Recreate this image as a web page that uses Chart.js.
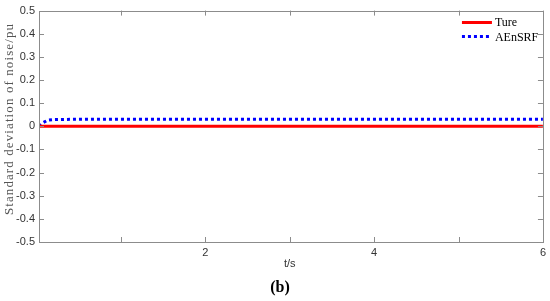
<!DOCTYPE html>
<html>
<head>
<meta charset="utf-8">
<script src="https://cdn.jsdelivr.net/npm/chart.js@4.4.1/dist/chart.umd.min.js"></script>
<style>
  html, body { margin: 0; padding: 0; background: #fff; }
  #wrap { width: 550px; height: 301px; }
</style>
</head>
<body>
<div id="wrap"><canvas id="myChart" width="550" height="301"></canvas></div>
<script>
// data
const tureT = [0.03, 6];
const tureVals = [0, 0];
const aenT = [0.03, 0.08, 0.13, 0.2, 0.4, 1, 2, 3, 4, 5, 6];
const aenVals = [0, 0.016, 0.026, 0.029, 0.03, 0.031, 0.031, 0.031, 0.031, 0.031, 0.031];
const xLabels = [2, 4, 6];

function toXY(t, v) {
  return t.map((ti, i) => ({x: ti, y: v[i]}));
}

const frameColor = '#8c8c8c';

const framePlugin = {
  id: 'frame',
  afterDraw(chart) {
    const ctx = chart.ctx;
    const a = chart.chartArea;
    const xs = chart.scales.x, ys = chart.scales.y;
    ctx.save();
    ctx.strokeStyle = frameColor;
    ctx.lineWidth = 1;
    ctx.strokeRect(Math.round(a.left) + 0.5, Math.round(a.top) + 0.5,
      Math.round(a.right - a.left), Math.round(a.bottom - a.top));
    // inward ticks
    ctx.beginPath();
    xs.ticks.forEach(t => {
      if (Math.abs(t.value - Math.round(t.value)) > 1e-6) return;
      const px = Math.round(xs.getPixelForValue(t.value)) + 0.5;
      ctx.moveTo(px, a.bottom); ctx.lineTo(px, a.bottom - 5);
      ctx.moveTo(px, a.top); ctx.lineTo(px, a.top + 5);
    });
    ys.ticks.forEach(t => {
      const py = Math.round(ys.getPixelForValue(t.value)) + 0.5;
      ctx.moveTo(a.left, py); ctx.lineTo(a.left + 5, py);
      ctx.moveTo(a.right, py); ctx.lineTo(a.right - 5, py);
    });
    ctx.stroke();

    // legend
    const lx = a.right - 81;
    ctx.lineWidth = 3;
    ctx.strokeStyle = '#ff0000';
    ctx.beginPath(); ctx.moveTo(lx, 22.5); ctx.lineTo(lx + 30, 22.5); ctx.stroke();
    ctx.strokeStyle = '#0000ff';
    ctx.setLineDash([3, 3]);
    ctx.beginPath(); ctx.moveTo(lx, 36.5); ctx.lineTo(lx + 30, 36.5); ctx.stroke();
    ctx.setLineDash([]);
    ctx.fillStyle = '#000';
    ctx.font = '12px "Liberation Serif", "Times New Roman", serif';
    ctx.textBaseline = 'middle';
    ctx.textAlign = 'left';
    ctx.fillText('Ture', lx + 33, 23);
    ctx.fillText('AEnSRF', lx + 33, 38);

    // axis titles
    ctx.font = '11px "Liberation Sans", Arial, sans-serif';
    ctx.textAlign = 'center';
    ctx.fillStyle = '#333';
    ctx.fillText('t/s', xs.getPixelForValue(3), 264);
    ctx.font = 'bold 16px "Liberation Serif", "Times New Roman", serif';
    ctx.fillStyle = '#000';
    ctx.fillText('(b)', 280, 288);

    ctx.save();
    ctx.translate(10, 119);
    ctx.rotate(-Math.PI / 2);
    ctx.font = '13px "Liberation Serif", "Times New Roman", serif';
    ctx.fillStyle = '#555';
    ctx.letterSpacing = '1.1px';
    ctx.fillText('Standard deviation of noise/pu', 0, 0);
    ctx.restore();
    ctx.restore();
  }
};

new Chart(document.getElementById('myChart').getContext('2d'), {
  type: 'line',
  data: {
    datasets: [
      {
        label: 'Ture',
        data: toXY(tureT, tureVals),
        borderColor: '#ff0000',
        borderWidth: 3,
        pointRadius: 0,
        tension: 0
      },
      {
        label: 'AEnSRF',
        data: toXY(aenT, aenVals),
        borderColor: '#0000ff',
        borderWidth: 3,
        borderDash: [3, 3],
        borderCapStyle: 'butt',
        pointRadius: 0,
        tension: 0
      }
    ]
  },
  options: {
    responsive: false,
    animation: false,
    layout: { padding: { left: 0, right: 7, top: 8, bottom: 0 } },
    plugins: {
      legend: { display: false },
      tooltip: { enabled: false }
    },
    scales: {
      x: {
        type: 'linear',
        min: 0.03,
        max: 6,
        grid: { display: false, drawTicks: false },
        border: { display: false },
        ticks: {
          stepSize: 1,
          padding: 4,
          color: '#333',
          font: { family: '"Liberation Sans", Arial, sans-serif', size: 11 },
          maxRotation: 0,
          autoSkip: false,
          callback: (v) => xLabels.includes(Math.round(v * 100) / 100) ? String(v) : ''
        },
        afterFit(scale) { scale.height = 59; }
      },
      y: {
        min: -0.5,
        max: 0.5,
        grid: { display: false, drawTicks: false },
        border: { display: false },
        ticks: {
          stepSize: 0.1,
          padding: 4,
          color: '#333',
          font: { family: '"Liberation Sans", Arial, sans-serif', size: 11 },
          callback: (v) => {
            const r = Math.round(v * 10) / 10;
            return r === 0 ? '0' : r.toFixed(1);
          }
        },
        afterFit(scale) { scale.width = 39; }
      }
    }
  },
  plugins: [framePlugin]
});
</script>
</body>
</html>
